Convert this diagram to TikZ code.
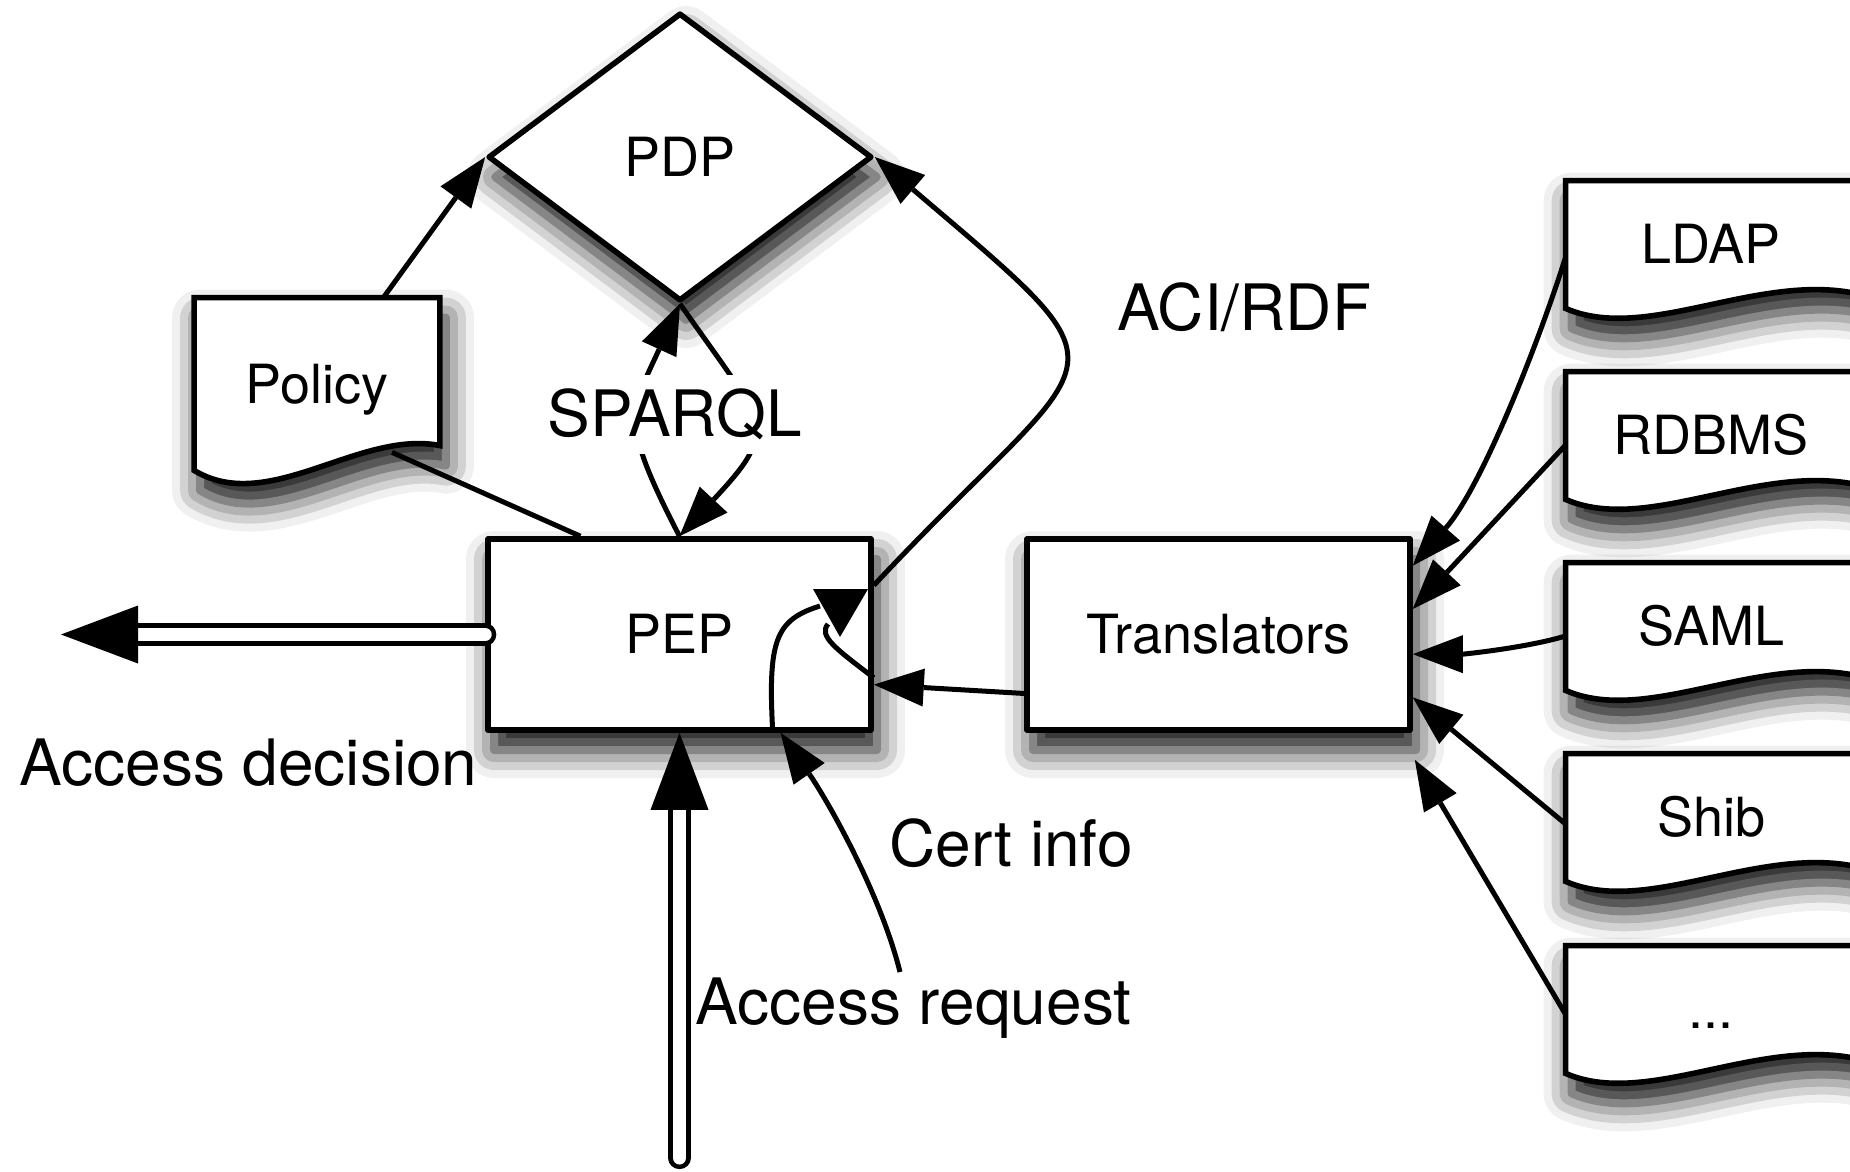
\documentclass[tikz,border=0pt]{standalone}
\usepackage{fontspec}
\setmainfont{TeX Gyre Heros}
\usetikzlibrary{arrows.meta,shapes.geometric,shadows.blur,calc,backgrounds}

\begin{document}
\begin{tikzpicture}[x=0.5pt, y=-0.5pt, line join=round,
    dropshadow/.style={blur shadow={shadow xshift=3pt, shadow yshift=-10pt, shadow blur radius=14pt, shadow opacity=95}},
    box/.style={draw, fill=white, line width=2.8pt, dropshadow, inner sep=0pt,
        font=\fontsize{27}{31}\selectfont, text height=19.4pt, text depth=0pt},
    decision/.style={box, diamond, minimum width=192pt, minimum height=144pt},
    process/.style={box, rectangle, minimum width=191.5pt, minimum height=95.5pt},
    doctext/.style={inner sep=0pt, font=\fontsize{27}{31}\selectfont, text height=19.4pt, text depth=0pt},
    feed/.style={doctext, minimum width=145pt, minimum height=63.5pt},
    docline/.style={draw, fill=white, line width=2.8pt, dropshadow},
    conn/.style={line width=2.5pt, -{Triangle[length=25pt, width=19pt, line width=0pt]}},
    plain/.style={line width=2.5pt},
    bigarrow/.style={double, double distance=6.5pt, line width=2.3pt, line cap=round,
        -{Triangle[length=38.5pt, width=29pt, line width=0pt]}},
    txt/.style={inner sep=0pt, font=\fontsize{32}{37}\selectfont}]

    \useasboundingbox (0,0) rectangle (1850,1171);

    \node[decision] (pdp) at (680,157) {PDP};
    \node[process] (pep) at (679.5,634.5) {PEP};
    \node[process] (trans) at (1218.5,634.5) {Translators};

    \node[doctext, minimum width=122.5pt, minimum height=86pt] (policy) at (317,384) {Policy};
    \node[feed] (ldap) at (1711,244.5) {LDAP};
    \node[feed] (rdbms) at (1711,435.5) {RDBMS};
    \node[feed] (saml) at (1711,626.5) {SAML};
    \node[feed] (shib) at (1711,817.5) {Shib};
    \node[feed] (more) at (1711,1009.5) {...};

    \begin{scope}[on background layer]
        \draw[docline] (policy.south west) -- (policy.north west) -- (policy.north east) -- ++(0,148)
            .. controls +(-81,-16) and +(74,45) .. (policy.south west) -- cycle;
        \draw[docline] (ldap.south west) -- (ldap.north west) -- (ldap.north east) -- ++(0,113)
            .. controls +(-100,-21) and +(80,35) .. (ldap.south west) -- cycle;
        \draw[docline] (rdbms.south west) -- (rdbms.north west) -- (rdbms.north east) -- ++(0,113)
            .. controls +(-100,-21) and +(80,35) .. (rdbms.south west) -- cycle;
        \draw[docline] (saml.south west) -- (saml.north west) -- (saml.north east) -- ++(0,113)
            .. controls +(-100,-21) and +(80,35) .. (saml.south west) -- cycle;
        \draw[docline] (shib.south west) -- (shib.north west) -- (shib.north east) -- ++(0,113)
            .. controls +(-100,-21) and +(80,35) .. (shib.south west) -- cycle;
        \draw[docline] (more.south west) -- (more.north west) -- (more.north east) -- ++(0,113)
            .. controls +(-100,-21) and +(80,35) .. (more.south west) -- cycle;
    \end{scope}

    \coordinate (merge) at (840,637);
    \coordinate (certfrom) at (900,972);
    \coordinate (reqfrom) at (679.5,1158);
    \coordinate (decto) at (61,634.5);

    \draw[conn] ($(policy.north west)!0.77!(policy.north east)$) -- (pdp.west);
    \draw[plain] ($(policy.south)+(75,-18)$) -- ($(pep.north west)!0.245!(pep.north east)$);
    \draw[conn] (pep.north) .. controls +(-60,-116) and +(-50,109) .. (pdp.south);
    \draw[conn] (pdp.south) .. controls +(85.5,123) and +(102,-109.5) .. (pep.north);
    \draw[conn] ($(pep.north east)!0.25!(pep.south east)$) .. controls +(230,-246) and +(270,230) .. (pdp.east);
    \draw[conn] ($(trans.north west)!0.8!(trans.south west)$) -- ($(pep.north east)!0.755!(pep.south east)$);
    \draw[conn] (certfrom) .. controls +(-20,-80) and +(46,66) .. ($(pep.south west)!0.76!(pep.south east)$);

    \draw[plain] ($(pep.south west)!0.74!(pep.south east)$) .. controls +(-5,-92) and +(-45,14) .. ($(merge)+(-20,-31)$);
    \draw[plain] ($(pep.north east)!0.72!(pep.south east)$) .. controls +(-38,-29) and +(-10,12) .. ($(merge)+(-12,-13)$);
    \fill (merge) -- ++(-27,-48) -- ++(55,0) -- cycle;

    \draw[conn] ($(ldap.west)+(0,12.5)$) .. controls +(-25,80) and +(70,-80) .. ($(trans.north east)!0.15!(trans.south east)$);
    \draw[conn] ($(rdbms.west)+(0,9.5)$) -- ($(trans.north east)!0.37!(trans.south east)$);
    \draw[conn] ($(saml.west)+(0,9.5)$) .. controls +(-40,12) and +(50,0) .. ($(trans.north east)!0.6!(trans.south east)$);
    \draw[conn] ($(shib.west)+(0,6.5)$) -- ($(trans.north east)!0.82!(trans.south east)$);
    \draw[conn] ($(more.west)+(0,5)$) -- ($(trans.south east)+(2,27)$);

    \draw[bigarrow] (pep.west) -- (decto);
    \draw[bigarrow] (reqfrom) -- (pep.south);

    \node[txt, anchor=base, fill=white, inner sep=7pt] (sparql) at (675,436.7) {SPARQL};
    \node[txt, anchor=base west] (decision) at (19,785.5) {Access decision};
    \node[txt, anchor=base west] (request) at (695,1024) {Access request};
    \node[txt, anchor=base west] (cert) at (889,866.5) {Cert info};
    \node[txt, anchor=base west] (acirdf) at (1117,330) {ACI/RDF};
\end{tikzpicture}
\end{document}
